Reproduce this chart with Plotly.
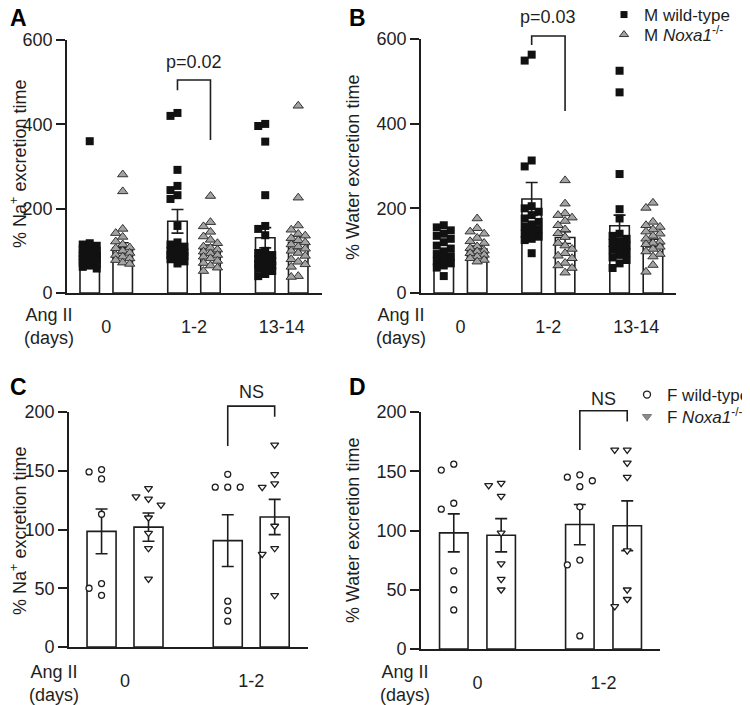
import math
import plotly.graph_objects as go

W, H = 750, 705
OFF = 8  # the page places the figure 8 px in from the window's top-left corner
FONT = "Liberation Sans, Arial, sans-serif"
INK = "#1e1e1e"

# ---------------- data ----------------
groups_AB = ["0", "1-2", "13-14"]
groups_CD = ["0", "1-2"]

# Panel A: % Na+ excretion time, male
A_wt = [
    [360, 118, 115, 112, 110, 105, 100, 98, 95, 92, 90, 88, 85, 82, 80, 78, 75, 72, 68, 65, 62, 58],
    [427, 420, 292, 254, 244, 232, 223, 159, 120, 115, 110, 105, 100, 96, 92, 90, 88, 85, 80, 75, 70],
    [401, 396, 359, 232, 159, 152, 137, 100, 95, 90, 85, 80, 75, 72, 68, 65, 62, 58, 52, 45, 40],
]
A_ko = [
    [281, 241, 152, 142, 133, 122, 115, 108, 106, 100, 95, 90, 86, 82, 78, 72, 69],
    [230, 168, 158, 145, 134, 126, 118, 110, 107, 103, 98, 94, 90, 86, 82, 76, 71, 65, 60, 52],
    [444, 226, 160, 150, 140, 136, 130, 125, 120, 115, 110, 105, 100, 95, 88, 80, 74, 68, 62, 40, 38],
]
A_wt_mean = [88, 170, 131]
A_wt_sem = [13, 28, 24]
A_ko_mean = [107, 104, 120]
A_ko_sem = [12, 10, 15]

# Panel B: % Water excretion time, male
B_wt = [
    [160, 155, 148, 140, 135, 128, 120, 112, 105, 98, 92, 85, 80, 75, 70, 65, 60, 40],
    [563, 549, 313, 299, 205, 200, 192, 184, 176, 168, 162, 157, 150, 145, 140, 133, 128, 125, 94],
    [525, 474, 281, 198, 176, 140, 135, 128, 122, 118, 112, 108, 102, 96, 90, 84, 78, 70, 59],
]
B_ko = [
    [176, 153, 145, 140, 130, 122, 118, 110, 106, 100, 98, 94, 90, 86, 82, 78, 74],
    [266, 211, 188, 184, 178, 170, 160, 150, 141, 132, 118, 112, 104, 94, 88, 82, 71, 65, 59, 48],
    [213, 201, 168, 160, 156, 150, 145, 140, 135, 128, 121, 118, 115, 109, 104, 98, 92, 86, 66, 50],
]
B_wt_mean = [97, 222, 159]
B_wt_sem = [8, 39, 25]
B_ko_mean = [104, 131, 118]
B_ko_sem = [7, 14, 9]

# Panel C: % Na+ excretion time, female
C_wt = [[151, 149, 143, 113, 54, 50, 44], [147, 136, 136, 136, 39, 31, 22]]
C_ko = [[135, 128, 126, 121, 110, 97, 84, 58], [172, 147, 139, 136, 103, 84, 79, 44]]
C_wt_mean = [98.4, 90.5]
C_wt_sem = [19, 22]
C_ko_mean = [102, 110.6]
C_ko_sem = [12, 15]

# Panel D: % Water excretion time, female
D_wt = [[156, 151, 123, 118, 66, 50, 33], [147, 145, 142, 137, 120, 75, 71, 11]]
D_ko = [[140, 138, 129, 98, 72, 59, 50], [168, 168, 157, 145, 83, 50, 42, 36]]
D_wt_mean = [98, 105]
D_wt_sem = [16, 17]
D_ko_mean = [96, 104]
D_ko_sem = [14, 21]

# significance brackets: (group index, top value, left leg end, right leg end, label)
A_sig = (1, 505, 481, 363, "p=0.02")
B_sig = (1, 607, 586, 430, "p=0.03")
C_sig = (1, 205, 171, 196, "NS")
D_sig = (1, 201, 168, 192, "NS")

# ---------------- layout geometry (window pixels) ----------------
def px2paper_x(px):
    return (px - OFF) / W

def px2paper_y(py):
    return 1 - (py - OFF) / H

panels = {
    "A": dict(xa="x", ya="y", xpx=(67, 322), ypx=(293, 40), xr=(-0.447, 2.459), yr=(0, 600),
              off=0.188, bw=0.222, dtick=200),
    "B": dict(xa="x2", ya="y2", xpx=(421, 676), ypx=(293, 39), xr=(-0.449, 2.452), yr=(0, 600),
              off=0.19, bw=0.222, dtick=200),
    "C": dict(xa="x3", ya="y3", xpx=(69, 308), ypx=(647, 412), xr=(-0.444, 1.45), yr=(0, 200),
              off=0.186, bw=0.23, dtick=50),
    "D": dict(xa="x4", ya="y4", xpx=(421, 660), ypx=(649, 412), xr=(-0.448, 1.448), yr=(0, 200),
              off=0.188, bw=0.226, dtick=50),
}

def unit_px(p):
    xu = (p["xpx"][1] - p["xpx"][0]) / (p["xr"][1] - p["xr"][0])
    yu = (p["ypx"][0] - p["ypx"][1]) / (p["yr"][1] - p["yr"][0])
    return xu, yu

def to_paper(p, xv, yv):
    xu, yu = unit_px(p)
    px = p["xpx"][0] + (xv - p["xr"][0]) * xu
    py = p["ypx"][0] - (yv - p["yr"][0]) * yu
    return px2paper_x(px), px2paper_y(py)

def swarm(vals, yu, step, dmin, kmax):
    order = sorted(range(len(vals)), key=lambda i: -vals[i])
    ks = [0]
    for k in range(1, kmax + 1):
        ks += [-k, k]
    placed = []
    res = [0.0] * len(vals)
    for i in order:
        y = vals[i] * yu
        best, bestcost = None, None
        for k in ks:
            x = k * step
            cost = sum(max(0.0, dmin - math.hypot(x - a, y - b)) for a, b in placed)
            if bestcost is None or cost < bestcost - 1e-9:
                best, bestcost = x, cost
            if cost == 0:
                break
        placed.append((best, y))
        res[i] = best
    return res

fig = go.Figure()

def add_panel(key, groups, wt, ko, wt_mean, wt_sem, ko_mean, ko_sem, wt_mk, ko_mk, step, dmin):
    p = panels[key]
    xu, yu = unit_px(p)
    n = len(groups)
    for sign, data, mean, sem, mk in ((-1, wt, wt_mean, wt_sem, wt_mk), (1, ko, ko_mean, ko_sem, ko_mk)):
        xs_bar = [g + sign * p["off"] for g in range(n)]
        fig.add_trace(go.Bar(x=xs_bar, y=mean, width=p["bw"], marker=dict(color="white", line=dict(width=0)),
                             xaxis=p["xa"], yaxis=p["ya"], showlegend=False, hoverinfo="skip"))
        px_, py_ = [], []
        for g in range(n):
            offs = swarm(data[g], yu, step, dmin, 1)
            for v, o in zip(data[g], offs):
                px_.append(xs_bar[g] + o / xu)
                py_.append(v)
        fig.add_trace(go.Scatter(x=px_, y=py_, mode="markers", marker=mk, xaxis=p["xa"], yaxis=p["ya"],
                                 showlegend=False, cliponaxis=False, hoverinfo="skip"))
        fig.add_trace(go.Bar(x=xs_bar, y=mean, width=p["bw"],
                             marker=dict(color="rgba(0,0,0,0)", line=dict(color=INK, width=1.6)),
                             error_y=dict(type="data", array=sem, visible=True, color=INK, thickness=1.6, width=6),
                             xaxis=p["xa"], yaxis=p["ya"], showlegend=False, hoverinfo="skip"))

sq = dict(symbol="square", size=8, color="#111111", line=dict(width=0))
tri = dict(symbol="triangle-up", size=9, color="#a3a3a3", line=dict(color="#333333", width=1))
circ = dict(symbol="circle", size=6, color="white", line=dict(color=INK, width=1.3))
tri_d = dict(symbol="triangle-down", size=7, color="white", line=dict(color=INK, width=1.3))

add_panel("A", groups_AB, A_wt, A_ko, A_wt_mean, A_wt_sem, A_ko_mean, A_ko_sem, sq, tri, 7, 7)
add_panel("B", groups_AB, B_wt, B_ko, B_wt_mean, B_wt_sem, B_ko_mean, B_ko_sem, sq, tri, 7, 7)
add_panel("C", groups_CD, C_wt, C_ko, C_wt_mean, C_wt_sem, C_ko_mean, C_ko_sem, circ, tri_d, 12.5, 9)
add_panel("D", groups_CD, D_wt, D_ko, D_wt_mean, D_wt_sem, D_ko_mean, D_ko_sem, circ, tri_d, 12.5, 9)

# legends: one legend per entry so each row sits where the reference has it
leg_entries = [
    ("legend", "M wild-type", dict(symbol="square", size=7, color="#111111", line=dict(width=0)), "x2", "y2"),
    ("legend3", "M <i>Noxa1</i><sup>-/-</sup>",
     dict(symbol="triangle-up", size=8, color="#a3a3a3", line=dict(color="#333333", width=1)), "x2", "y2"),
    ("legend2", "F wild-type", dict(symbol="circle", size=7, color="white", line=dict(color=INK, width=1.3)), "x4", "y4"),
    ("legend4", "F <i>Noxa1</i><sup>-/-</sup>",
     dict(symbol="triangle-down", size=8, color="#8c8c8c", line=dict(color="#777777", width=1)), "x4", "y4"),
]
for lg, name, mk, xa, ya in leg_entries:
    fig.add_trace(go.Scatter(x=[None], y=[None], mode="markers", marker=mk, name=name,
                             xaxis=xa, yaxis=ya, legend=lg))

shapes, annos = [], []
ytitles = {"A": "% Na<sup>+</sup> excretion time", "B": "% Water excretion time",
           "C": "% Na<sup>+</sup> excretion time", "D": "% Water excretion time"}
ytitle_pos = {"A": (18, 164), "B": (353, 168), "C": (18, 531), "D": (353, 531)}
layout = {}
for key, groups in (("A", groups_AB), ("B", groups_AB), ("C", groups_CD), ("D", groups_CD)):
    p = panels[key]
    xname = "xaxis" + p["xa"][1:]
    yname = "yaxis" + p["ya"][1:]
    layout[xname] = dict(domain=[px2paper_x(p["xpx"][0]), px2paper_x(p["xpx"][1])], range=list(p["xr"]),
                         anchor=p["ya"], showline=True, linecolor=INK, linewidth=1.7, showgrid=False, zeroline=False,
                         tickmode="array", tickvals=list(range(len(groups))), ticktext=groups,
                         ticks="outside", ticklen=17, tickcolor="rgba(0,0,0,0)", automargin=False,
                         tickfont=dict(size=18, color=INK, family=FONT), fixedrange=True)
    layout[yname] = dict(domain=[px2paper_y(p["ypx"][0]), px2paper_y(p["ypx"][1])], range=list(p["yr"]),
                         anchor=p["xa"], showline=True, linecolor=INK, linewidth=1.7, showgrid=False, zeroline=False,
                         tick0=0, dtick=p["dtick"], ticks="outside", ticklen=9, tickwidth=1.7, tickcolor=INK,
                         tickfont=dict(size=18, color=INK, family=FONT), automargin=False, fixedrange=True)
    tx, ty = ytitle_pos[key]
    annos.append(dict(text=ytitles[key], xref="paper", yref="paper", x=px2paper_x(tx), y=px2paper_y(ty),
                      xanchor="center", yanchor="middle", textangle=-90, showarrow=False,
                      font=dict(size=18, color=INK, family=FONT)))

# brackets
sig_shift = {"A": 6, "B": 7, "C": 2, "D": 0}
for key, sig in (("A", A_sig), ("B", B_sig), ("C", C_sig), ("D", D_sig)):
    p = panels[key]
    g, top, lend, rend, label = sig
    xl, xr_ = g - p["off"], g + p["off"]
    x1, y1 = to_paper(p, xl, lend)
    _, yt = to_paper(p, xl, top)
    x2, y2 = to_paper(p, xr_, rend)
    shapes.append(dict(type="path", xref="paper", yref="paper",
                       path=f"M {x1} {y1} L {x1} {yt} L {x2} {yt} L {x2} {y2}",
                       line=dict(color=INK, width=1.6)))
    annos.append(dict(text=label, xref="paper", yref="paper", x=(x1 + x2) / 2, y=yt, xanchor="center",
                      yanchor="bottom", yshift=sig_shift[key], showarrow=False,
                      font=dict(size=18, color=INK, family=FONT)))

# panel letters
for letter, (lx, ly) in {"A": (8, 18), "B": (347, 18), "C": (8, 387), "D": (347, 387)}.items():
    annos.append(dict(text=f"<b>{letter}</b>", xref="paper", yref="paper", x=px2paper_x(lx), y=px2paper_y(ly),
                      xanchor="left", yanchor="middle", showarrow=False, font=dict(size=23, color="#000", family=FONT)))

# Ang II (days) labels
for (cx, cy) in ((49, 326), (401, 326), (54, 683), (405, 683)):
    annos.append(dict(text="Ang II<br>(days)", xref="paper", yref="paper", x=px2paper_x(cx), y=px2paper_y(cy),
                      xanchor="center", yanchor="middle", showarrow=False, align="center",
                      font=dict(size=18, color=INK, family=FONT)))

legend_common = dict(xanchor="left", yanchor="middle", bgcolor="rgba(0,0,0,0)", tracegroupgap=0, itemwidth=30)
LEGF = dict(size=17, family=FONT, color=INK)
fig.update_layout(
    width=W, height=H, margin=dict(l=0, r=0, t=0, b=0, autoexpand=False),
    paper_bgcolor="white", plot_bgcolor="white",
    font=dict(family=FONT, size=18, color=INK),
    barmode="overlay", shapes=shapes, annotations=annos,
    legend=dict(x=px2paper_x(604), y=px2paper_y(15), font=LEGF, **legend_common),
    legend3=dict(x=px2paper_x(604), y=px2paper_y(35), font=LEGF, **legend_common),
    legend2=dict(x=px2paper_x(627), y=px2paper_y(395), font=LEGF, **legend_common),
    legend4=dict(x=px2paper_x(627), y=px2paper_y(417), font=LEGF, **legend_common),
    **layout,
)

fig.write_html("out.html")
